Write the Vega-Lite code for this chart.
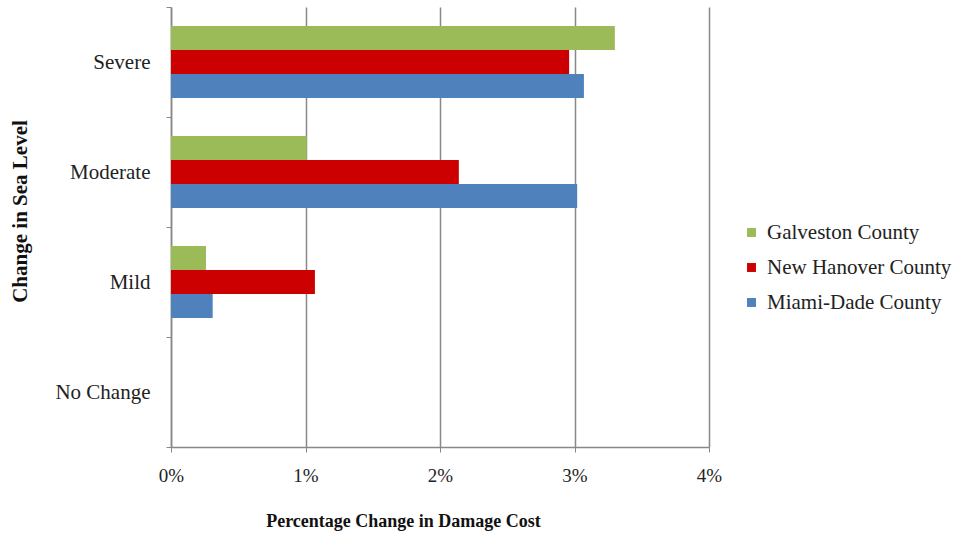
{
  "$schema": "https://vega.github.io/schema/vega-lite/v6.json",
  "width": 538,
  "height": 440,
  "autosize": {"type": "none"},
  "padding": {"left": 171, "top": 7, "right": 250, "bottom": 88},
  "background": "white",
  "config": {
    "view": {"stroke": null},
    "font": "Liberation Serif"
  },
  "data": {
    "values": [
      {"level": "Severe", "county": "Galveston County", "pct": 0.0330},
      {"level": "Severe", "county": "New Hanover County", "pct": 0.0296},
      {"level": "Severe", "county": "Miami-Dade County", "pct": 0.0307},
      {"level": "Moderate", "county": "Galveston County", "pct": 0.0101},
      {"level": "Moderate", "county": "New Hanover County", "pct": 0.0214},
      {"level": "Moderate", "county": "Miami-Dade County", "pct": 0.0302},
      {"level": "Mild", "county": "Galveston County", "pct": 0.0026},
      {"level": "Mild", "county": "New Hanover County", "pct": 0.0107},
      {"level": "Mild", "county": "Miami-Dade County", "pct": 0.0031},
      {"level": "No Change", "county": "Galveston County", "pct": 0},
      {"level": "No Change", "county": "New Hanover County", "pct": 0},
      {"level": "No Change", "county": "Miami-Dade County", "pct": 0}
    ]
  },
  "mark": {"type": "bar"},
  "encoding": {
    "y": {
      "field": "level",
      "type": "nominal",
      "sort": ["Severe", "Moderate", "Mild", "No Change"],
      "scale": {"paddingInner": 0, "paddingOuter": 0},
      "axis": {
        "title": "Change in Sea Level",
        "titleFont": "Liberation Serif",
        "titleFontSize": 21,
        "titleFontWeight": "bold",
        "titleColor": "#111111",
        "titleAngle": -90,
        "titleX": -151,
        "titleY": 204,
        "titleAlign": "center",
        "titleBaseline": "middle",
        "labelFont": "Liberation Serif",
        "labelFontSize": 21,
        "labelColor": "#222222",
        "labelPadding": 16,
        "tickBand": "extent",
        "tickSize": 5,
        "tickColor": "#888888",
        "domainColor": "#888888",
        "domainWidth": 1.5,
        "grid": false
      }
    },
    "yOffset": {
      "field": "county",
      "type": "nominal",
      "sort": ["Galveston County", "New Hanover County", "Miami-Dade County"],
      "scale": {"paddingInner": 0, "paddingOuter": 0.79}
    },
    "x": {
      "field": "pct",
      "type": "quantitative",
      "scale": {"domain": [0, 0.04], "nice": false},
      "axis": {
        "title": "Percentage Change in Damage Cost",
        "titleFont": "Liberation Serif",
        "titleFontSize": 18,
        "titleFontWeight": "bold",
        "titleColor": "#111111",
        "titleX": 232,
        "titleY": 74,
        "titleAlign": "center",
        "titleBaseline": "middle",
        "format": ".0%",
        "values": [0, 0.01, 0.02, 0.03, 0.04],
        "labelFont": "Liberation Serif",
        "labelFontSize": 19,
        "labelColor": "#222222",
        "labelPadding": 14,
        "labelFlush": false,
        "tickSize": 5,
        "tickColor": "#888888",
        "domainColor": "#888888",
        "domainWidth": 1.5,
        "grid": true,
        "gridColor": "#888888",
        "gridWidth": 1.5
      }
    },
    "color": {
      "field": "county",
      "type": "nominal",
      "sort": ["Galveston County", "New Hanover County", "Miami-Dade County"],
      "scale": {
        "domain": ["Galveston County", "New Hanover County", "Miami-Dade County"],
        "range": ["#9BBB59", "#CC0000", "#4F81BD"]
      },
      "legend": {
        "title": null,
        "orient": "none",
        "legendX": 570,
        "legendY": 215,
        "symbolType": "square",
        "symbolSize": 80,
        "symbolStrokeWidth": 0,
        "labelFont": "Liberation Serif",
        "labelFontSize": 21,
        "labelColor": "#222222",
        "labelOffset": 5,
        "labelLimit": 300,
        "rowPadding": 13
      }
    }
  }
}
